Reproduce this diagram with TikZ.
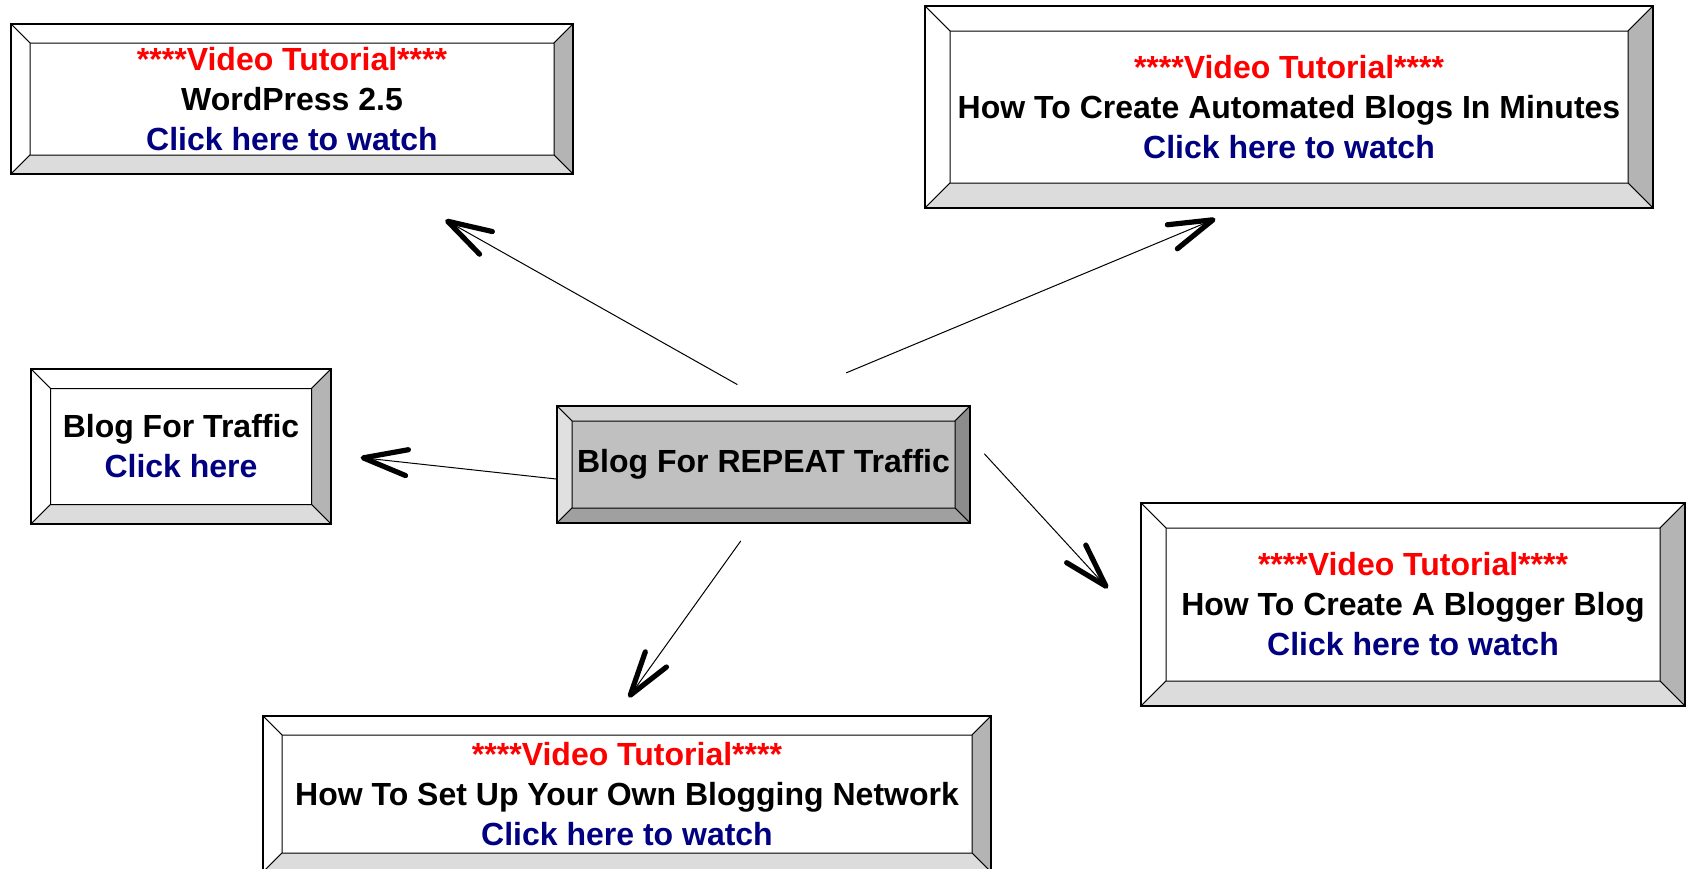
\documentclass[tikz,border=0pt]{standalone}
\usepackage{fontspec}
\setmainfont{Liberation Sans}
\usetikzlibrary{arrows.meta,calc}

\definecolor{linkblue}{HTML}{000080}
\definecolor{bevright}{HTML}{B4B4B4}
\definecolor{bevbottom}{HTML}{DCDCDC}
\definecolor{hubtop}{HTML}{D4D4D4}
\definecolor{hubleft}{HTML}{E0E0E0}
\definecolor{hubface}{HTML}{C0C0C0}
\definecolor{hubright}{HTML}{8C8C8C}
\definecolor{hubbottom}{HTML}{A0A0A0}

% four bevel faces drawn inside a node
\newcommand{\bevelfill}{%
  \path (path picture bounding box.north west) coordinate (bvA)
        (path picture bounding box.north east) coordinate (bvB)
        (path picture bounding box.south east) coordinate (bvC)
        (path picture bounding box.south west) coordinate (bvD);
  \path ($(bvA)+(\bvw,-\bvw)$) coordinate (bva)
        ($(bvB)+(-\bvw,-\bvw)$) coordinate (bvb)
        ($(bvC)+(-\bvw,\bvw)$) coordinate (bvc)
        ($(bvD)+(\bvw,\bvw)$) coordinate (bvd);
  \fill[\bvface] (bva) rectangle (bvc);
  \filldraw[fill=\bvtop, line width=0.5pt] (bvA) -- (bvB) -- (bvb) -- (bva) -- cycle;
  \filldraw[fill=\bvleft, line width=0.5pt] (bvA) -- (bva) -- (bvd) -- (bvD) -- cycle;
  \filldraw[fill=\bvright, line width=0.5pt] (bvB) -- (bvC) -- (bvc) -- (bvb) -- cycle;
  \filldraw[fill=\bvbottom, line width=0.5pt] (bvD) -- (bvd) -- (bvc) -- (bvC) -- cycle;
}

\begin{document}
\begin{tikzpicture}[x=0.5pt,y=-0.5pt]
  \tikzset{
    bevel width/.store in=\bvw,
    bevel top/.store in=\bvtop,
    bevel left/.store in=\bvleft,
    bevel right/.store in=\bvright,
    bevel bottom/.store in=\bvbottom,
    bevel face/.store in=\bvface,
    panel/.style={
      rectangle,
      draw=black,
      line width=0.8pt,
      inner sep=0pt,
      align=center,
      font=\fontsize{16}{20}\selectfont\bfseries,
      bevel width=9.5pt,
      bevel top=white,
      bevel left=white,
      bevel right=bevright,
      bevel bottom=bevbottom,
      bevel face=white,
      path picture={\bevelfill}
    },
    hubpanel/.style={
      panel,
      bevel width=7.5pt,
      bevel top=hubtop,
      bevel left=hubleft,
      bevel right=hubright,
      bevel bottom=hubbottom,
      bevel face=hubface
    },
    link/.style={
      draw,
      line width=0.5pt,
      -{Straight Barb[length=22pt,width=13pt,line width=2.6pt,round]}
    }
  }

  \useasboundingbox (0,0) rectangle (1686,868);
  \fill[white] (0,0) rectangle (1686,868);
  \clip (0,0) rectangle (1686,868);

  \node[panel, minimum width=281pt, minimum height=75pt] (wp) at (292,99)
    {\textcolor{red}{****Video Tutorial****}\\WordPress 2.5\\\textcolor{linkblue}{Click here to watch}};
  \node[panel, bevel width=12.5pt, minimum width=364pt, minimum height=101pt] (autoblog) at (1289,107)
    {\textcolor{red}{****Video Tutorial****}\\How To Create Automated Blogs In Minutes\\\textcolor{linkblue}{Click here to watch}};
  \node[panel, bevel width=9.75pt, minimum width=150pt, minimum height=77.5pt] (traffic) at (181,446.5)
    {Blog For Traffic\\\textcolor{linkblue}{Click here}};
  \node[hubpanel, minimum width=206.5pt, minimum height=58.5pt] (hub) at (763.5,464.5)
    {Blog For REPEAT Traffic};
  \node[panel, bevel width=12.5pt, minimum width=272pt, minimum height=101.5pt] (blogger) at (1413,604.5)
    {\textcolor{red}{****Video Tutorial****}\\How To Create A Blogger Blog\\\textcolor{linkblue}{Click here to watch}};
  \node[panel, minimum width=364pt, minimum height=78pt] (network) at (627,794)
    {\textcolor{red}{****Video Tutorial****}\\How To Set Up Your Own Blogging Network\\\textcolor{linkblue}{Click here to watch}};

  \path
  (hub.80) edge[link, shorten <=21pt, shorten >=46pt] (wp.-46)
  (hub.85) edge[link, shorten <=42pt, shorten >=13pt] (autoblog.-116)
  (hub.184) edge[link, shorten >=14.5pt] (traffic.-3)
  (hub.7) edge[link, shorten <=10pt, shorten >=24pt] (blogger.184)
  (hub.-100) edge[link, shorten <=10.5pt, shorten >=11pt] (network.98);

\end{tikzpicture}
\end{document}
